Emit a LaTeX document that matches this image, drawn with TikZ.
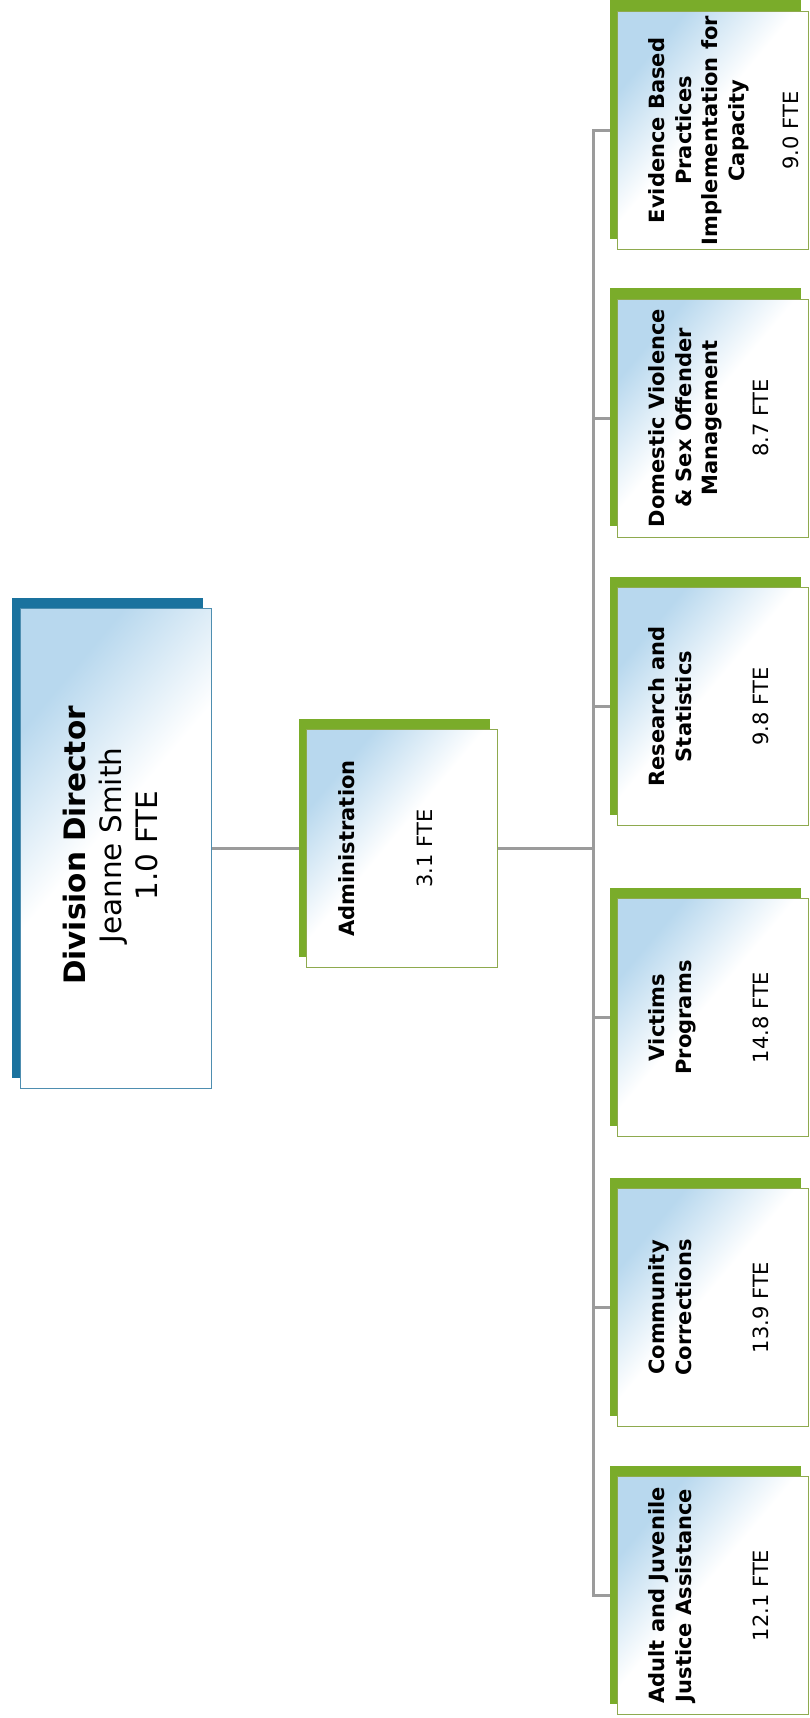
\documentclass[tikz,border=0pt]{standalone}
\usepackage{fontspec}
\setmainfont{DejaVu Sans}
\usepackage{tikz}
\usetikzlibrary{positioning,calc,shadows,backgrounds}

\definecolor{boxblue}{RGB}{184,216,238}
\definecolor{dirshadow}{RGB}{26,114,158}
\definecolor{dirline}{RGB}{78,142,176}
\definecolor{unitshadow}{RGB}{122,172,42}
\definecolor{unitline}{RGB}{142,170,78}
\definecolor{linkgray}{RGB}{155,155,155}

\pgfdeclarehorizontalshading{boxfade}{100bp}{color(0bp)=(boxblue); color(27bp)=(boxblue); color(47bp)=(white); color(100bp)=(white)}

\begin{document}
\begin{tikzpicture}[
    x=1pt, y=-1pt, % pixel-like coordinates, y downwards
    director/.style={rectangle,draw=dirline,line width=1pt,shade,shading=boxfade,shading angle=-40,minimum width=191pt,minimum height=480pt,general shadow={fill=dirshadow,shadow xshift=-8pt,shadow yshift=11pt}},
    unit/.style={rectangle,draw=unitline,line width=1pt,shade,shading=boxfade,shading angle=-40,minimum width=191pt,minimum height=238pt,general shadow={fill=unitshadow,shadow xshift=-7pt,shadow yshift=11pt}},
    unitname/.style={rotate=90,inner sep=0pt,align=center,font=\bfseries\fontsize{21}{26.5}\selectfont},
    fte/.style={rotate=90,inner sep=0pt,font=\fontsize{21}{26}\selectfont},
    link/.style={draw=linkgray,line width=3pt}
]
    \useasboundingbox (0,0) rectangle (809,1718);

    % Director and administration
    \node[director] (dir) at (115.5,848.5) {};
    \node[rotate=90,align=center,inner sep=0pt,font=\fontsize{29.5}{36}\selectfont] (dir-t) at ($(dir.center)+(-5,-3)$) {\textbf{Division Director}\\Jeanne Smith\\1.0 FTE};

    \node[unit] (adm) at (401.5,848.5) {};
    \node[unitname,anchor=north] (adm-t) at ($(adm.west)+(33,0)$) {Administration};
    \node[fte] (adm-f) at ($(adm.west)+(119,0)$) {3.1 FTE};

    % Units
    \foreach \nm/\yy/\ttl/\nfte/\off in {
        ebp/130.5/{Evidence Based\\Practices\\Implementation for\\Capacity}/9.0/174,
        dvsom/418/{Domestic Violence\\\& Sex Offender\\Management}/8.7/144,
        res/706.5/{Research and\\Statistics}/9.8/144,
        vic/1017.5/{Victims\\Programs}/14.8/144,
        comm/1307.5/{Community\\Corrections}/13.9/144,
        ajja/1595.5/{Adult and Juvenile\\Justice Assistance}/12.1/144}{
        \node[unit] (\nm) at (712.5,\yy) {};
        \node[unitname,anchor=north] (\nm-t) at ($(\nm.west)+(32,0)$) {\ttl};
        \node[fte] (\nm-f) at ($(\nm.west)+(\off,0)$) {\nfte\ FTE};
    }

    % Connectors
    \coordinate (bus) at (593,848.5);
    \begin{scope}[on background layer]
        \draw[link] (dir) -- (adm);
        \draw[link] (adm) -- (bus);
        \foreach \nm in {ebp,dvsom,res,vic,comm,ajja}
            \draw[link] (bus) |- (\nm);
    \end{scope}
\end{tikzpicture}
\end{document}
